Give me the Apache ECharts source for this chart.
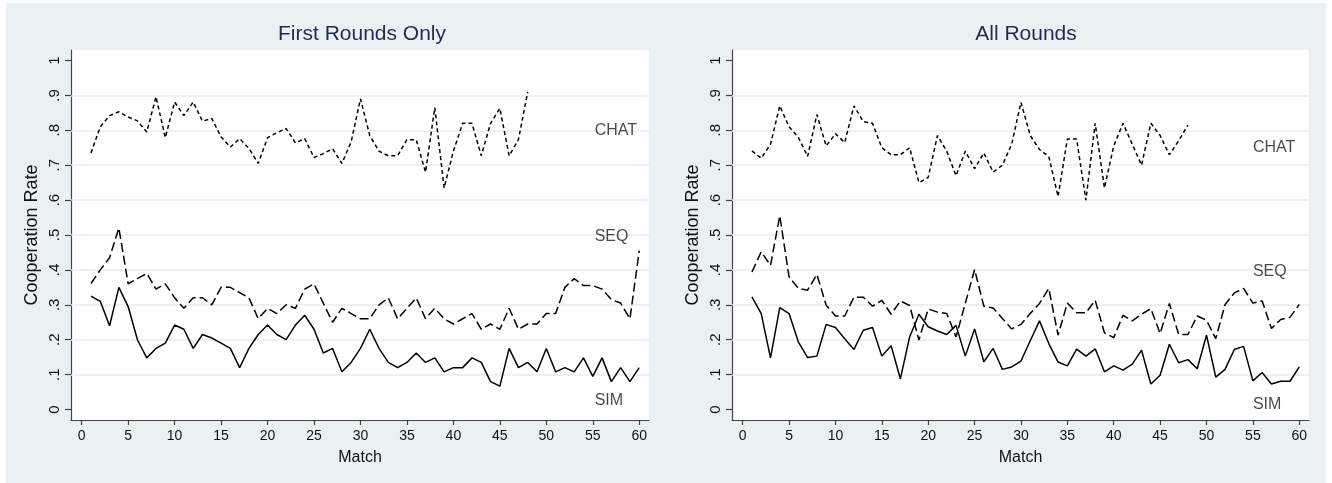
<!DOCTYPE html>
<html>
<head>
<meta charset="utf-8">
<script src="https://cdn.jsdelivr.net/npm/echarts@6/dist/echarts.min.js"></script>
<style>
html,body{margin:0;padding:0;background:#ffffff;}
#chart{width:1332px;height:483px;}
</style>
</head>
<body>
<div id="chart"></div>
<script>
// ---- data ----
const panelTitles = ['First Rounds Only', 'All Rounds'];
const matches = Array.from({length: 60}, (_, i) => i + 1);

const chatFirst = [0.735,0.81,0.842,0.853,0.838,0.827,0.795,0.896,0.779,0.881,0.842,0.881,0.826,0.834,0.781,0.752,0.776,0.748,0.705,0.779,0.793,0.805,0.764,0.776,0.722,0.733,0.747,0.705,0.767,0.89,0.785,0.74,0.727,0.727,0.773,0.773,0.68,0.865,0.635,0.74,0.82,0.82,0.727,0.82,0.863,0.727,0.773,0.91];
const seqFirst = [0.361,0.40,0.435,0.52,0.36,0.375,0.39,0.345,0.36,0.32,0.29,0.32,0.32,0.30,0.35,0.35,0.335,0.32,0.26,0.29,0.275,0.30,0.29,0.345,0.36,0.305,0.25,0.29,0.275,0.26,0.26,0.30,0.32,0.26,0.29,0.32,0.26,0.29,0.26,0.245,0.26,0.275,0.23,0.245,0.23,0.29,0.23,0.245,0.245,0.275,0.275,0.35,0.375,0.355,0.355,0.345,0.315,0.305,0.26,0.455];
const simFirst = [0.325,0.31,0.24,0.35,0.295,0.20,0.148,0.175,0.19,0.242,0.23,0.175,0.215,0.205,0.19,0.175,0.12,0.175,0.215,0.242,0.215,0.20,0.242,0.27,0.23,0.162,0.175,0.108,0.135,0.175,0.23,0.175,0.135,0.12,0.135,0.162,0.135,0.148,0.108,0.12,0.12,0.148,0.135,0.08,0.067,0.175,0.12,0.135,0.108,0.175,0.108,0.12,0.108,0.148,0.095,0.148,0.08,0.12,0.08,0.12];

const chatAll = [0.741,0.72,0.76,0.87,0.81,0.78,0.725,0.845,0.755,0.79,0.765,0.87,0.825,0.82,0.75,0.73,0.73,0.75,0.65,0.665,0.785,0.74,0.67,0.74,0.69,0.735,0.68,0.70,0.76,0.88,0.785,0.745,0.725,0.61,0.775,0.775,0.60,0.82,0.635,0.755,0.82,0.76,0.70,0.82,0.785,0.73,0.77,0.815];
const seqAll = [0.394,0.452,0.413,0.555,0.38,0.347,0.342,0.387,0.299,0.268,0.268,0.322,0.322,0.296,0.313,0.273,0.311,0.298,0.199,0.288,0.279,0.275,0.208,0.304,0.401,0.296,0.291,0.261,0.231,0.244,0.275,0.304,0.347,0.213,0.305,0.277,0.277,0.313,0.22,0.206,0.27,0.254,0.273,0.289,0.218,0.304,0.215,0.215,0.268,0.256,0.203,0.301,0.334,0.347,0.305,0.311,0.232,0.258,0.264,0.301];
const simAll = [0.323,0.275,0.148,0.292,0.275,0.194,0.149,0.153,0.244,0.235,0.203,0.172,0.227,0.235,0.153,0.183,0.088,0.208,0.273,0.237,0.225,0.215,0.241,0.153,0.231,0.137,0.175,0.115,0.122,0.139,0.197,0.254,0.189,0.136,0.125,0.173,0.153,0.174,0.108,0.125,0.113,0.13,0.17,0.073,0.098,0.187,0.134,0.143,0.117,0.213,0.093,0.115,0.172,0.181,0.082,0.106,0.073,0.081,0.081,0.122];

const yTicks = [0,0.1,0.2,0.3,0.4,0.5,0.6,0.7,0.8,0.9,1];
const gridVals = [0.1,0.2,0.3,0.4,0.5,0.6,0.7,0.8,0.9];
const xTicks = [0,5,10,15,20,25,30,35,40,45,50,55,60];

const labelNames = ['CHAT','SEQ','SIM'];
const labelXFirst = [55.2,55.2,55.2];
const labelYFirst = [0.8,0.495,0.027];
const labelXAll = [55,55,55];
const labelYAll = [0.749,0.394,0.015];

// ---- styles ----
const FONT = 'Liberation Sans, Arial, sans-serif';
const INK = '#111111';
const AXIS = '#444444';
const GRIDC = '#e4edf0';

function pairs(xs, ys){ return ys.map((v,i)=>[xs[i], v]); }
function yFmt(v){ if (Math.abs(v) < 1e-9) return '0'; if (Math.abs(v-1) < 1e-9) return '1'; return '.' + Math.round(v*10); }

const grids = [
  {left: 71, top: 50, width: 578, height: 370},
  {left: 732, top: 50, width: 577, height: 370}
];

const xAxes = grids.map((g, i) => ({
  type: 'value', gridIndex: i, min: -1.15, max: 61.05,
  name: 'Match', nameLocation: 'middle', nameGap: 30,
  nameTextStyle: {fontFamily: FONT, fontSize: 16, color: INK},
  axisLine: {show: true, onZero: false, lineStyle: {color: AXIS, width: 1.2}},
  axisTick: {show: true, length: 5, customValues: xTicks, lineStyle: {color: AXIS, width: 1.2}},
  axisLabel: {show: true, customValues: xTicks, margin: 9, fontFamily: FONT, fontSize: 14, color: INK},
  splitLine: {show: false}
}));

const yAxes = grids.map((g, i) => ({
  type: 'value', gridIndex: i, min: -0.03, max: 1.03,
  name: 'Cooperation Rate', nameLocation: 'middle', nameGap: 30, nameRotate: 90,
  nameTextStyle: {fontFamily: FONT, fontSize: 18, color: INK},
  axisLine: {show: true, onZero: false, lineStyle: {color: AXIS, width: 1.2}},
  axisTick: {show: true, length: 6, customValues: yTicks, lineStyle: {color: AXIS, width: 1.2}},
  axisLabel: {show: true, customValues: yTicks, rotate: 90, margin: 9, formatter: yFmt, fontFamily: FONT, fontSize: 15, color: INK},
  splitLine: {show: false}
}));

function lineSeries(data, idx, dash, name){
  return {
    type: 'line', name: name, xAxisIndex: idx, yAxisIndex: idx,
    data: data, showSymbol: false, symbol: 'none', z: 3,
    lineStyle: {color: '#000000', width: 1.5, type: dash},
    silent: true, animation: false
  };
}

function gridSeries(idx){
  return {
    type: 'line', xAxisIndex: idx, yAxisIndex: idx, data: [], z: 1, silent: true, animation: false,
    markLine: {
      silent: true, symbol: 'none', animation: false, z: 1, label: {show: false},
      lineStyle: {color: GRIDC, width: 1.6, type: 'solid'},
      data: gridVals.map(v => ({yAxis: v}))
    }
  };
}

function labelSeries(idx, xs, ys){
  return {
    type: 'scatter', xAxisIndex: idx, yAxisIndex: idx, symbolSize: 0, silent: true, animation: false, z: 10,
    data: labelNames.map((n, i) => [xs[i], ys[i], n]),
    label: {show: true, position: 'right', distance: 0, formatter: p => p.value[2],
            fontFamily: FONT, fontSize: 16, color: '#1a1a1a'}
  };
}

const option = {
  animation: false,
  backgroundColor: '#ffffff',
  graphic: [{
    type: 'rect', z: -10, silent: true,
    shape: {x: 6, y: 3, width: 1320, height: 480},
    style: {fill: '#eaf1f3'}
  }],
  title: [
    {text: panelTitles[0], left: 357, top: 19, textAlign: 'center',
     textStyle: {fontFamily: FONT, fontSize: 21, fontWeight: 'normal', color: '#1e2d55'}},
    {text: panelTitles[1], left: 1021, top: 19, textAlign: 'center',
     textStyle: {fontFamily: FONT, fontSize: 21, fontWeight: 'normal', color: '#1e2d55'}}
  ],
  grid: grids.map(g => Object.assign({show: true, backgroundColor: '#ffffff', borderWidth: 0}, g)),
  xAxis: xAxes,
  yAxis: yAxes,
  series: [
    gridSeries(0), gridSeries(1),
    lineSeries(pairs(matches, chatFirst), 0, [4,3], 'CHAT'),
    lineSeries(pairs(matches, seqFirst), 0, [9,4], 'SEQ'),
    lineSeries(pairs(matches, simFirst), 0, 'solid', 'SIM'),
    lineSeries(pairs(matches, chatAll), 1, [4,3], 'CHAT'),
    lineSeries(pairs(matches, seqAll), 1, [9,4], 'SEQ'),
    lineSeries(pairs(matches, simAll), 1, 'solid', 'SIM'),
    labelSeries(0, labelXFirst, labelYFirst),
    labelSeries(1, labelXAll, labelYAll)
  ]
};

const chart = echarts.init(document.getElementById('chart'), null, {renderer: 'canvas'});
chart.setOption(option);
</script>
</body>
</html>
